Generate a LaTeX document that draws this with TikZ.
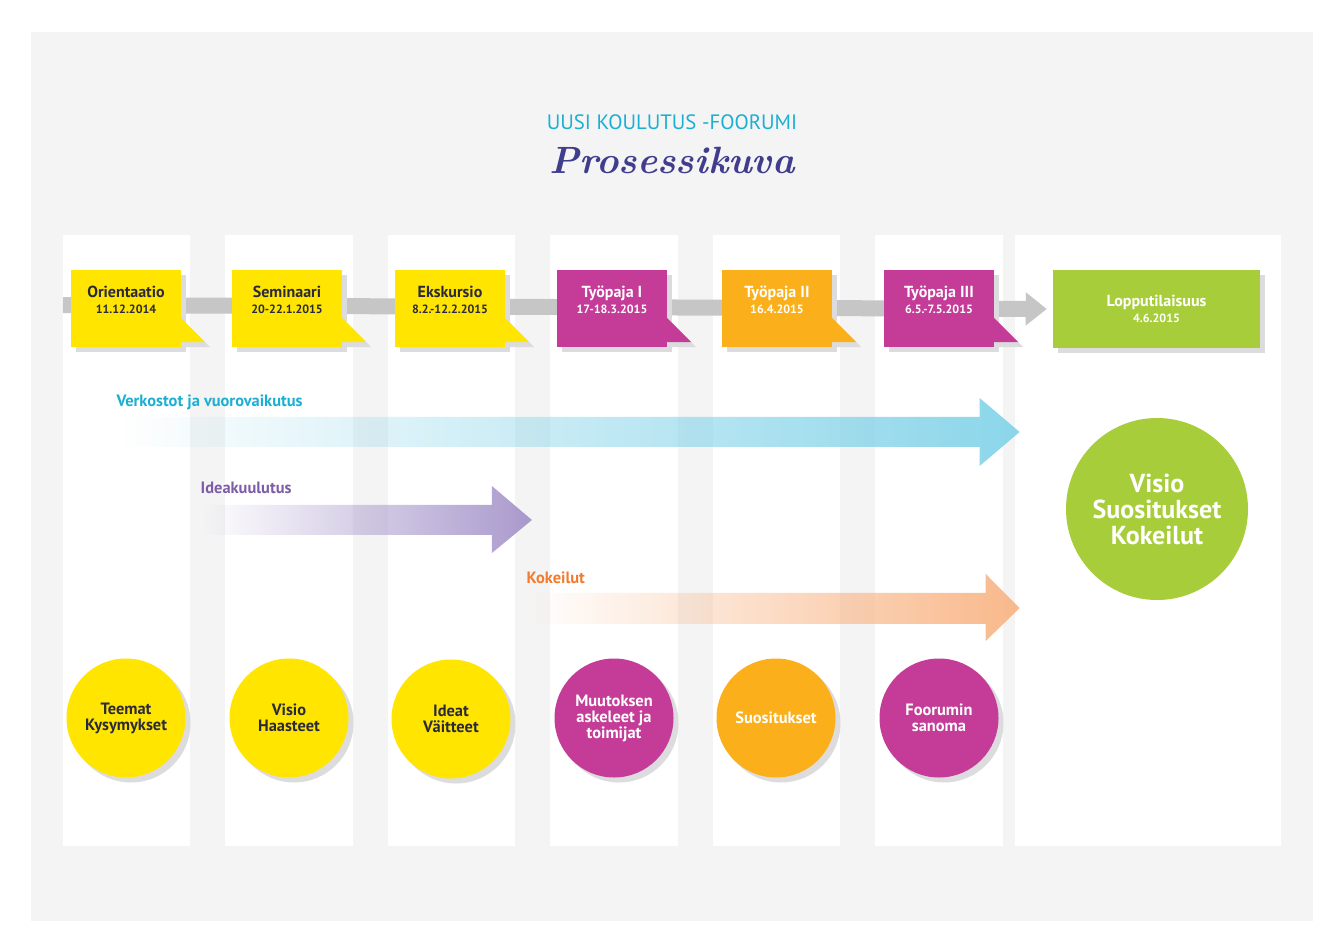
\documentclass[tikz,border=0pt]{standalone}
\usepackage{fontspec}
\newfontfamily\ptsans{PT Sans}
\usetikzlibrary{arrows.meta}
\usetikzlibrary{fadings}
\usetikzlibrary{shadows}

\definecolor{panel}{HTML}{F4F4F4}
\definecolor{yel}{HTML}{FFE500}
\definecolor{mag}{HTML}{C43C97}
\definecolor{ora}{HTML}{FBB01B}
\definecolor{grn}{HTML}{A8CD3A}
\definecolor{shd}{HTML}{DCDCDE}
\definecolor{barcol}{HTML}{C6C6C7}
\definecolor{ink}{HTML}{2A2A3C}
\definecolor{cya}{HTML}{1AAFD3}
\definecolor{cyaarrow}{HTML}{85D4E9}
\definecolor{vio}{HTML}{7D5CA8}
\definecolor{vioarrow}{HTML}{A594CA}
\definecolor{org}{HTML}{F27B2F}
\definecolor{orgarrow}{HTML}{F9B585}
\definecolor{titleblue}{HTML}{403D8D}

\tikzfading[name=fadein, left color=transparent!100, middle color=transparent!15, right color=transparent!5]

\tikzset{
  box/.style={minimum width=82.5pt, minimum height=57.75pt, inner sep=0pt,
    drop shadow={shadow xshift=3.75pt, shadow yshift=-3.75pt, fill=shd, opacity=1}},
  boxtext/.style={align=center, font=\ptsans\bfseries\fontsize{12}{12}\selectfont},
  lab/.style={anchor=west, font=\ptsans\bfseries\fontsize{12.3}{13}\selectfont},
  dot/.style={circle, minimum size=89.25pt, inner sep=0pt, align=center,
    font=\ptsans\bfseries\fontsize{12.3}{12}\selectfont,
    drop shadow={shadow xshift=3.75pt, shadow yshift=-3.75pt, fill=shd, opacity=1}}
}

\begin{document}
\begin{tikzpicture}[x=0.75pt, y=-0.75pt]
 \useasboundingbox (0,0) rectangle (1342,949);
 \fill[white] (0,0) rectangle (1342,949);
 \fill[panel] (31,32) rectangle (1313,921);
 % columns
 \fill[white] (63,235) rectangle (190,846);
 \fill[white] (225,235) rectangle (353,846);
 \fill[white] (388,235) rectangle (515,846);
 \fill[white] (550,235) rectangle (678,846);
 \fill[white] (713,235) rectangle (840,846);
 \fill[white] (875,235) rectangle (1003,846);
 \fill[white] (1015,235) rectangle (1281,846);
 % heading
 \node[font=\ptsans\fontsize{15.6}{17}\selectfont, text=cya] (kicker) at (672,122) {UUSI KOULUTUS -FOORUMI};
 \node[font=\bfseries\itshape\fontsize{28.5}{32}\selectfont, text=titleblue] (title) at (672,160) {Prosessikuva};
 % final event and timeline
 \node[box, fill=grn, minimum width=155.25pt, minimum height=58.5pt, boxtext, text=white] (finalbox) at (1156.5,309) {Lopputilaisuus\\{\fontsize{9}{12.75}\selectfont 4.6.2015}};
 \coordinate (barstart) at (63,305);
 \draw[barcol, line width=12pt, -{Triangle[length=15.75pt, width=24pt]}] (barstart) -- ([xshift=-4.5pt]finalbox.west);
 % tails (shadow first)
 \fill[shd] (181+5,318+5) -- (205+5,342+5) -- (181+5,342+5) -- cycle;
 \fill[shd] (342+5,318+5) -- (366+5,342+5) -- (342+5,342+5) -- cycle;
 \fill[shd] (505+5,318+5) -- (529+5,342+5) -- (505+5,342+5) -- cycle;
 \fill[shd] (667+5,318+5) -- (691+5,342+5) -- (667+5,342+5) -- cycle;
 \fill[shd] (832+5,318+5) -- (856+5,342+5) -- (832+5,342+5) -- cycle;
 \fill[shd] (994+5,318+5) -- (1018+5,342+5) -- (994+5,342+5) -- cycle;
 \node[box, fill=yel] (orient) at (71+55,308.5) {};
 \node[box, fill=yel] (semin) at (232+55,308.5) {};
 \node[box, fill=yel] (ekskur) at (395+55,308.5) {};
 \node[box, fill=mag] (paja1) at (557+55,308.5) {};
 \node[box, fill=ora] (paja2) at (722+55,308.5) {};
 \node[box, fill=mag] (paja3) at (884+55,308.5) {};
 \fill[yel] (181,318) -- (205,342) -- (181,342) -- cycle;
 \fill[yel] (342,318) -- (366,342) -- (342,342) -- cycle;
 \fill[yel] (505,318) -- (529,342) -- (505,342) -- cycle;
 \fill[mag] (667,318) -- (691,342) -- (667,342) -- cycle;
 \fill[ora] (832,318) -- (856,342) -- (832,342) -- cycle;
 \fill[mag] (994,318) -- (1018,342) -- (994,342) -- cycle;
 \node[boxtext, text=ink] (orientt) at (126,300) {Orientaatio\\{\fontsize{9}{12}\selectfont 11.12.2014}};
 \node[boxtext, text=ink] (semint) at (287,300) {Seminaari\\{\fontsize{9}{12}\selectfont 20-22.1.2015}};
 \node[boxtext, text=ink] (ekskurt) at (450,300) {Ekskursio\\{\fontsize{9}{12}\selectfont 8.2.-12.2.2015}};
 \node[boxtext, text=white] (paja1t) at (612,300) {Työpaja I\\{\fontsize{9}{12}\selectfont 17-18.3.2015}};
 \node[boxtext, text=white] (paja2t) at (777,300) {Työpaja II\\{\fontsize{9}{12}\selectfont 16.4.2015}};
 \node[boxtext, text=white] (paja3t) at (939,300) {Työpaja III\\{\fontsize{9}{12}\selectfont 6.5.-7.5.2015}};
 % long arrows
 \fill[cyaarrow, path fading=fadein] (122,417) -- (980,417) -- (980,398) -- (1020,432) -- (980,466) -- (980,447) -- (122,447) -- cycle;
 \fill[vioarrow, path fading=fadein] (203,505) -- (492,505) -- (492,486) -- (532,520) -- (492,553) -- (492,535) -- (203,535) -- cycle;
 \fill[orgarrow, path fading=fadein] (528,593) -- (986,593) -- (986,574) -- (1020,608) -- (986,641) -- (986,624) -- (528,624) -- cycle;
 \node[lab, text=cya] (netlab) at (112,402) {Verkostot ja vuorovaikutus};
 \node[lab, text=vio] (idealab) at (196,488) {Ideakuulutus};
 \node[lab, text=org] (testlab) at (522,578) {Kokeilut};
 % outcome
 \node[circle, fill=grn, minimum size=136.5pt, inner sep=0pt, align=center, text=white,
   font=\ptsans\bfseries\fontsize{19.5}{19.5}\selectfont] (goal) at (1157,509) {Visio\\Suositukset\\Kokeilut};
 % results per step
 \node[dot, fill=yel, text=ink] (res1) at (126,718) {Teemat\\Kysymykset};
 \node[dot, fill=yel, text=ink] (res2) at (289,718) {Visio\\Haasteet};
 \node[dot, fill=yel, text=ink] (res3) at (451,719) {Ideat\\Väitteet};
 \node[dot, fill=mag, text=white] (res4) at (614,718) {Muutoksen\\askeleet ja\\toimijat};
 \node[dot, fill=ora, text=white] (res5) at (776,718) {Suositukset};
 \node[dot, fill=mag, text=white] (res6) at (939,718) {Foorumin\\sanoma};
\end{tikzpicture}
\end{document}
